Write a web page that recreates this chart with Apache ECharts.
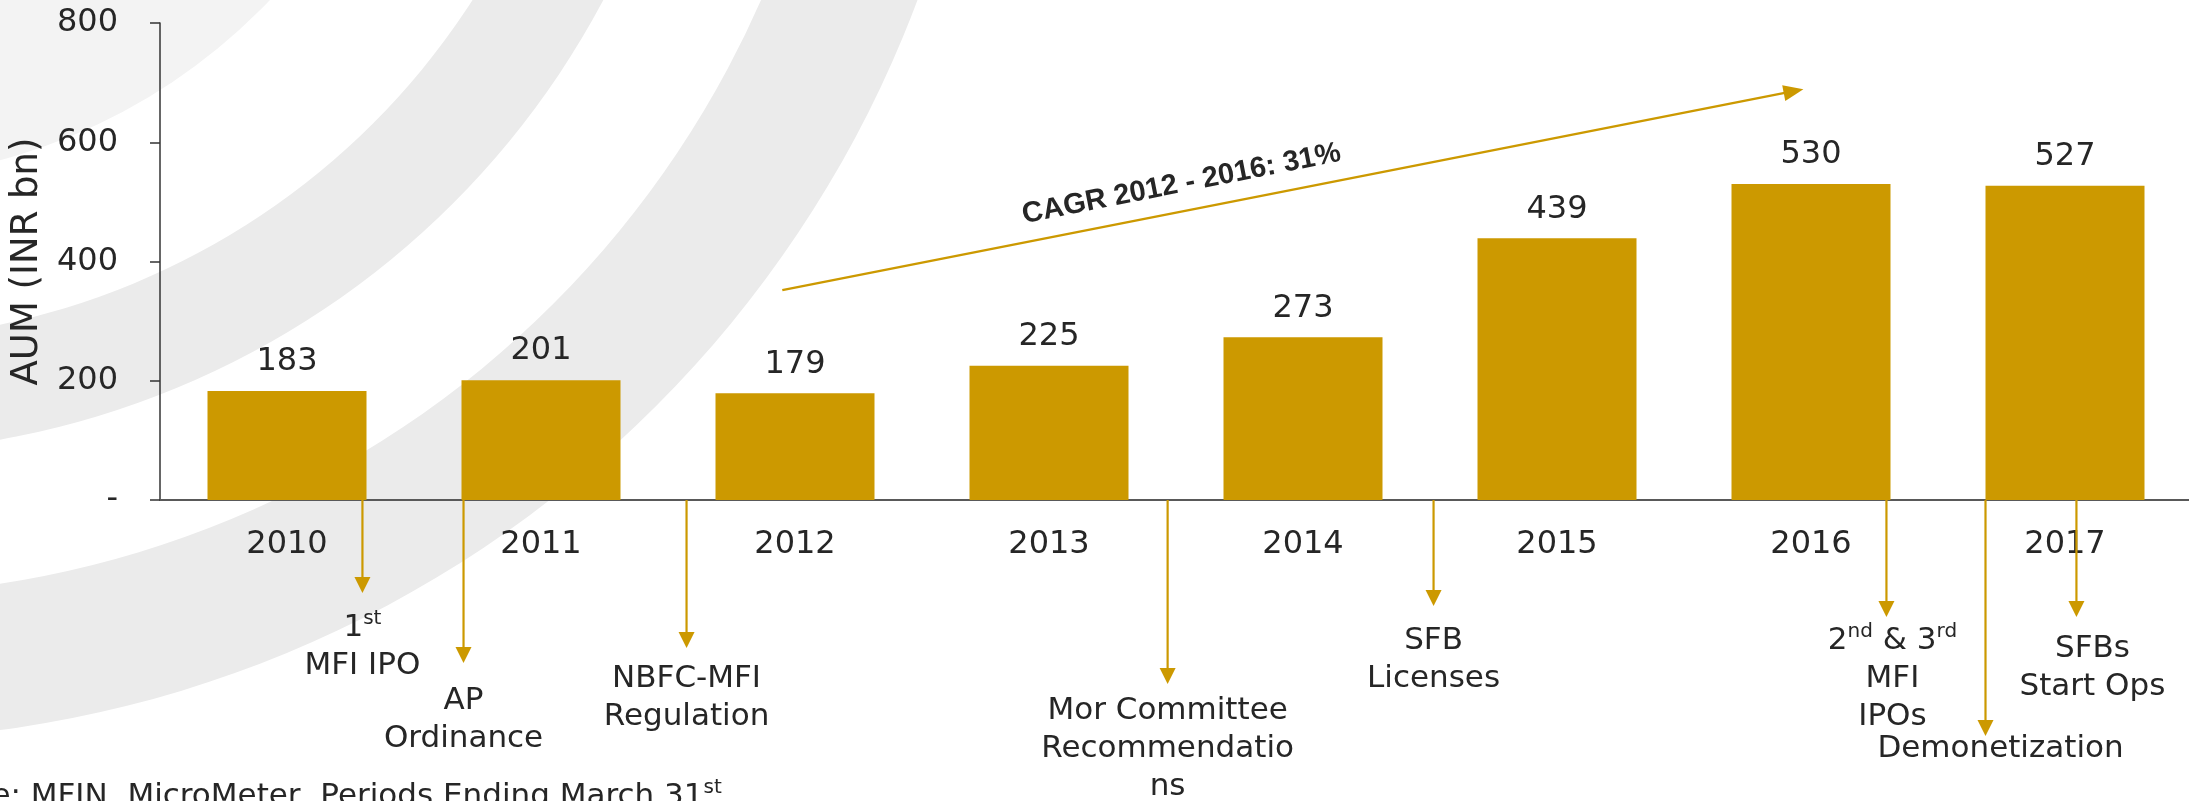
<!DOCTYPE html>
<html><head><meta charset="utf-8">
<script src="https://cdn.jsdelivr.net/npm/echarts@6/dist/echarts.min.js"></script>
<style>html,body{margin:0;padding:0;background:#fff}#c{width:2189px;height:801px}</style>
</head><body><div id="c"></div>
<script>
// ---------- data ----------
const years = ['2010', '2011', '2012', '2013', '2014', '2015', '2016', '2017'];
const aum = [183, 201, 179, 225, 273, 439, 530, 527];
const yTicks = [0, 200, 400, 600, 800];
const axisTitle = 'AUM (INR bn)';
const eventLabels = [
  '1{sup|st}\nMFI IPO',
  'AP\nOrdinance',
  'NBFC-MFI\nRegulation',
  'Mor Committee\nRecommendatio\nns',
  'SFB\nLicenses',
  '2{sup|nd} & 3{sup|rd}\nMFI\nIPOs',
  'Demonetization',
  'SFBs\nStart Ops'
];
// event timing, in year-index units on the category scale
const eventPositions = [0.297, 0.695, 1.573, 3.467, 4.514, 6.297, 6.687, 7.045];
const cagrLabel = 'CAGR 2012 - 2016: 31%';
const cagrFrom = [1.95, 352];
const cagrTo = [5.97, 689];
const sourceNote = 'Source: MFIN, MicroMeter, Periods Ending March 31{sup|st}';

// ---------- layout / style ----------
const GOLD = '#CC9900';
const TEXT = '#262626';
const FONT = 'DejaVu Sans';
const eventArrowDepth = [93, 163, 148, 184, 106, 117, 236, 117];
const eventLabelTop = [109, 182, 160, 192, 122, 122, 230, 130];
const eventLabelDx = [0, 0, 0, 0, 0, 6, 15, 16];
const supStyle = {fontSize: 20, lineHeight: 26, verticalAlign: 'top', fill: TEXT, fontFamily: FONT};

const chart = echarts.init(document.getElementById('c'), null, {renderer: 'canvas'});

const option = {
  animation: false,
  backgroundColor: '#ffffff',
  graphic: [
    {type: 'circle', z: -100, silent: true, shape: {cx: -150, cy: -400, r: 580}, style: {fill: '#f3f3f3'}},
    {type: 'ring', z: -100, silent: true, shape: {cx: -150, cy: -400, r0: 740, r: 853}, style: {fill: '#ebebeb'}},
    {type: 'ring', z: -100, silent: true, shape: {cx: -150, cy: -400, r0: 995, r: 1140}, style: {fill: '#ebebeb'}},
    {type: 'text', z: 10, x: -96, y: 778, silent: true,
      style: {text: sourceNote, fontSize: 31, fontFamily: FONT, fill: TEXT, verticalAlign: 'top', lineHeight: 38,
        rich: {sup: supStyle}}}
  ],
  grid: {left: 160, top: 23, width: 2032, height: 477, outerBoundsMode: 'none', containLabel: false},
  xAxis: [
    {
      type: 'category', data: years, gridIndex: 0,
      axisTick: {show: false},
      axisLine: {show: true, lineStyle: {color: '#595959', width: 2}},
      axisLabel: {fontSize: 32, fontFamily: FONT, color: TEXT, margin: 29, interval: 0},
      splitLine: {show: false}
    },
    {type: 'value', gridIndex: 0, min: -0.5, max: 7.5, show: false}
  ],
  yAxis: {
    type: 'value', min: yTicks[0], max: yTicks[yTicks.length - 1], interval: 200,
    name: axisTitle, nameLocation: 'middle', nameGap: 112,
    nameTextStyle: {fontSize: 37, fontFamily: FONT, color: TEXT},
    axisLine: {show: true, onZero: false, lineStyle: {color: '#333333', width: 1.5}},
    axisTick: {show: true, length: 10, lineStyle: {color: '#333333', width: 1.5}},
    splitLine: {show: false},
    axisLabel: {fontSize: 32, fontFamily: FONT, color: TEXT, margin: 42,
      formatter: v => (v === 0 ? '-' : String(v))}
  },
  series: [
    {
      type: 'bar', data: aum, xAxisIndex: 0, yAxisIndex: 0,
      barCategoryGap: '37.4%', z: 3,
      itemStyle: {color: GOLD},
      label: {show: true, position: 'top', distance: 13, fontSize: 32, fontFamily: FONT, color: TEXT}
    },
    {
      type: 'custom', xAxisIndex: 1, yAxisIndex: 0, z: 5, clip: false, silent: true,
      data: eventPositions.map(p => [p]),
      encode: {x: 0},
      renderItem: function (params, api) {
        const i = params.dataIndex;
        const p = api.coord([api.value(0), 0]);
        const x = p[0], y0 = p[1];
        const tipY = y0 + eventArrowDepth[i];
        const head = 16, hw = 8;
        return {
          type: 'group', children: [
            {type: 'line', shape: {x1: x, y1: y0, x2: x, y2: tipY - head + 1}, style: {stroke: GOLD, lineWidth: 2.2}},
            {type: 'polygon', shape: {points: [[x - hw, tipY - head], [x + hw, tipY - head], [x, tipY]]}, style: {fill: GOLD}},
            {type: 'text', x: x + eventLabelDx[i], y: y0 + eventLabelTop[i],
              style: {text: eventLabels[i], fontSize: 31, fontFamily: FONT, fill: TEXT,
                align: 'center', verticalAlign: 'top', lineHeight: 38, rich: {sup: supStyle}}}
          ]
        };
      }
    },
    {
      type: 'custom', xAxisIndex: 1, yAxisIndex: 0, z: 5, clip: false, silent: true,
      data: [[cagrFrom[0], cagrFrom[1], cagrTo[0], cagrTo[1]]],
      encode: {x: [0, 2], y: [1, 3]},
      renderItem: function (params, api) {
        const a = api.coord([api.value(0), api.value(1)]);
        const b = api.coord([api.value(2), api.value(3)]);
        const dx = b[0] - a[0], dy = b[1] - a[1];
        const len = Math.hypot(dx, dy);
        const ux = dx / len, uy = dy / len;
        const nx = uy, ny = -ux; // normal pointing upward
        const head = 20, hw = 8;
        const bx = b[0] - ux * head, by = b[1] - uy * head;
        const t = 0.396, off = 27;
        const cx = a[0] + dx * t + nx * off, cy = a[1] + dy * t + ny * off;
        return {
          type: 'group', children: [
            {type: 'line', shape: {x1: a[0], y1: a[1], x2: bx + ux, y2: by + uy}, style: {stroke: GOLD, lineWidth: 2.5}},
            {type: 'polygon', shape: {points: [[b[0], b[1]], [bx + nx * hw, by + ny * hw], [bx - nx * hw, by - ny * hw]]}, style: {fill: GOLD}},
            {type: 'text', x: cx, y: cy, rotation: -Math.atan2(dy, dx),
              style: {text: cagrLabel, fontSize: 29, fontWeight: 'bold', fontFamily: 'Liberation Sans', fill: TEXT,
                align: 'center', verticalAlign: 'middle'}}
          ]
        };
      }
    }
  ]
};
chart.setOption(option);
</script>
</body></html>
